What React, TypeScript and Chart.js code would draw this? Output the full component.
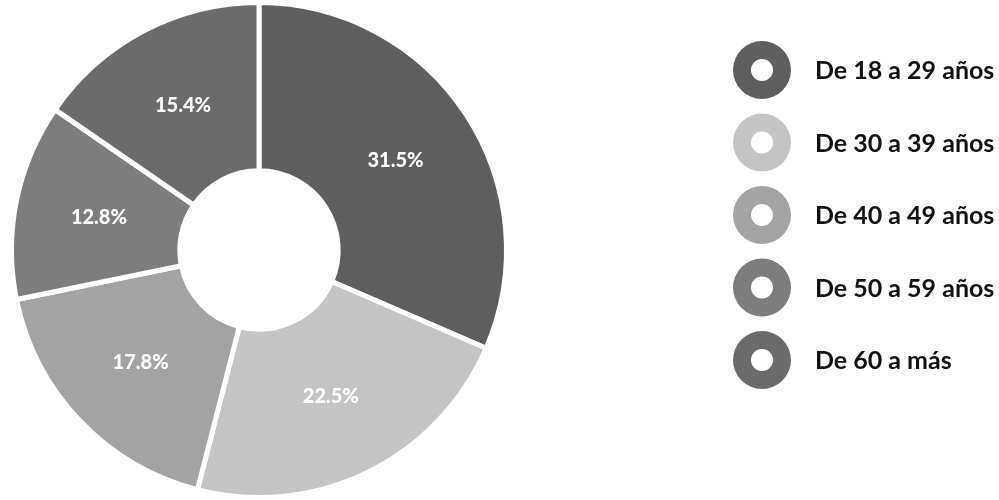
import React, { useEffect, useRef } from "react";
import { Chart, registerables } from "chart.js";

Chart.register(...registerables);

const categories = [
  "De 18 a 29 años",
  "De 30 a 39 años",
  "De 40 a 49 años",
  "De 50 a 59 años",
  "De 60 a más",
];
const values = [31.5, 22.5, 17.8, 12.8, 15.4];
const valueLabels = ["31.5%", "22.5%", "17.8%", "12.8%", "15.4%"];
const colors = ["#5e5e5e", "#c4c4c4", "#a3a3a3", "#7d7d7d", "#6b6b6b"];

const sliceLabelPlugin = {
  id: "sliceLabels",
  afterDatasetsDraw(chart: any) {
    const ctx = chart.ctx;
    const meta = chart.getDatasetMeta(0);
    ctx.save();
    ctx.fillStyle = "#ffffff";
    ctx.font = "900 20px Lato";
    ctx.textAlign = "center";
    ctx.textBaseline = "middle";
    meta.data.forEach((arc: any, i: number) => {
      const p = arc.tooltipPosition();
      ctx.fillText(valueLabels[i], p.x, p.y);
    });
    ctx.restore();
  },
};

const ringLegendPlugin = {
  id: "ringLegend",
  afterDraw(chart: any) {
    const ctx = chart.ctx;
    const cx = 762;
    const y0 = 70;
    const step = 72.5;
    const rOut = 29;
    const rIn = 11;
    ctx.save();
    categories.forEach((label, i) => {
      const cy = y0 + i * step;
      ctx.beginPath();
      ctx.arc(cx, cy, rOut, 0, Math.PI * 2);
      ctx.arc(cx, cy, rIn, 0, Math.PI * 2, true);
      ctx.closePath();
      ctx.fillStyle = colors[i];
      ctx.fill("evenodd");
      ctx.fillStyle = "#111111";
      ctx.font = "bold 25px Lato";
      ctx.textAlign = "left";
      ctx.textBaseline = "middle";
      ctx.fillText(label, 815, cy + 1);
    });
    ctx.restore();
  },
};

export default function App() {
  const ref = useRef<HTMLCanvasElement | null>(null);
  useEffect(() => {
    document.body.style.margin = "0";
    if (!ref.current) return;
    const chart = new Chart(ref.current, {
      type: "doughnut",
      data: {
        labels: categories,
        datasets: [
          {
            data: values,
            backgroundColor: colors,
            borderColor: "#ffffff",
            borderWidth: 5,
          },
        ],
      },
      options: {
        responsive: false,
        animation: false,
        cutout: "32%",
        layout: { padding: { left: 9, right: 490, top: 0, bottom: 0 } },
        plugins: {
          legend: { display: false },
          tooltip: { enabled: false },
        },
      },
      plugins: [sliceLabelPlugin, ringLegendPlugin],
    });
    return () => chart.destroy();
  }, []);
  return (
    <div style={{ width: 999, height: 500, background: "#ffffff" }}>
      <canvas ref={ref} width={999} height={500} />
    </div>
  );
}
